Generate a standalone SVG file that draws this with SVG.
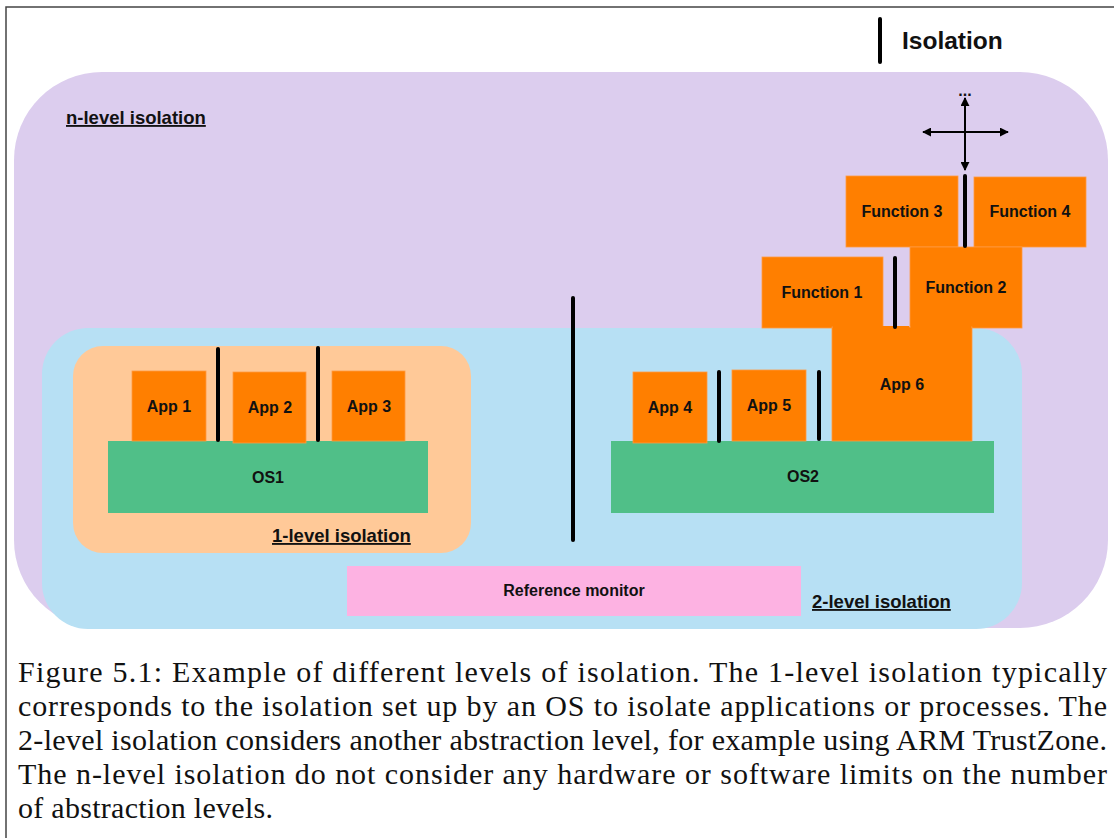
<svg xmlns="http://www.w3.org/2000/svg" width="1114" height="838" viewBox="0 0 1114 838">
<defs>
<marker id="ah" viewBox="0 0 10 10" refX="9" refY="5" markerWidth="9" markerHeight="9" markerUnits="userSpaceOnUse" orient="auto-start-reverse">
<path d="M0,0 L10,5 L0,10 z" fill="#000"/>
</marker>
<style>
.lbl{font-family:"Liberation Sans",Arial,sans-serif;font-weight:bold;font-size:16px;fill:#111;text-anchor:middle}
.zone{font-family:"Liberation Sans",Arial,sans-serif;font-weight:bold;font-size:18.5px;fill:#111;text-decoration:underline}
.orange{fill:#FF7F00;stroke:#FF9A40;stroke-width:0.8}
.green{fill:#50BF88}
.bar{stroke:#000;stroke-width:4;stroke-linecap:round}
.arr{stroke:#000;stroke-width:2;fill:none}
.cap{font-family:"Liberation Serif","Times New Roman",serif;font-size:30px;fill:#111}
</style>
</defs>
<rect x="0" y="0" width="1114" height="838" fill="#fff"/>
<path d="M6,838 V7 H1114" fill="none" stroke="#444" stroke-width="1.5"/>

<g id="n-level">
<rect x="14" y="72" width="1094" height="556" rx="88" ry="88" fill="#DCCDEE"/>
<text class="zone" x="66" y="124">n-level isolation</text>
</g>
<g id="two-level">
<rect x="42" y="328" width="980" height="301" rx="46" ry="46" fill="#B7E0F4"/>
<text class="zone" x="812" y="608">2-level isolation</text>
</g>
<g id="one-level">
<rect x="73" y="346" width="398" height="207" rx="30" ry="30" fill="#FFC998"/>
<text class="zone" x="272" y="542">1-level isolation</text>
</g>

<g id="os1"><rect class="green" x="108" y="441" width="320" height="72"/><text class="lbl" x="268" y="483">OS1</text></g>
<g id="os2"><rect class="green" x="611" y="441" width="383" height="72"/><text class="lbl" x="803" y="482">OS2</text></g>
<g id="app1"><rect class="orange" x="132" y="371" width="74" height="70"/><text class="lbl" x="169" y="412">App 1</text></g>
<g id="app2"><rect class="orange" x="233" y="372" width="73" height="71"/><text class="lbl" x="270" y="413">App 2</text></g>
<g id="app3"><rect class="orange" x="332" y="371" width="73" height="70"/><text class="lbl" x="369" y="412">App 3</text></g>
<g id="app4"><rect class="orange" x="633" y="372" width="74" height="71"/><text class="lbl" x="670" y="413">App 4</text></g>
<g id="app5"><rect class="orange" x="732" y="370" width="74" height="71"/><text class="lbl" x="769" y="411">App 5</text></g>
<g id="function1"><rect class="orange" x="762" y="257" width="121" height="71"/><text class="lbl" x="822" y="298">Function 1</text></g>
<g id="function3"><rect class="orange" x="846" y="176" width="112" height="71"/><text class="lbl" x="902" y="217">Function 3</text></g>
<g id="function4"><rect class="orange" x="974" y="177" width="112" height="70"/><text class="lbl" x="1030" y="217">Function 4</text></g>
<g id="function2"><rect class="orange" x="910" y="247" width="112" height="81"/><text class="lbl" x="966" y="293">Function 2</text></g>
<g id="app6"><rect class="orange" x="832" y="327" width="140" height="114"/><rect x="833" y="326" width="76" height="4" fill="#FF7F00"/><rect x="911" y="326" width="60" height="4" fill="#FF7F00"/><text class="lbl" x="902" y="390">App 6</text></g>
<g id="reference-monitor"><rect x="347" y="566" width="454" height="50" fill="#FDB2E2"/><text class="lbl" x="574" y="596">Reference monitor</text></g>

<g id="isolation-bars">
<line class="bar" x1="218" y1="349" x2="218" y2="440"/>
<line class="bar" x1="318" y1="348" x2="318" y2="440"/>
<line class="bar" x1="573" y1="298" x2="573" y2="540"/>
<line class="bar" x1="719" y1="372" x2="719" y2="441"/>
<line class="bar" x1="819" y1="372" x2="819" y2="439"/>
<line class="bar" x1="895" y1="258" x2="895" y2="327"/>
<line class="bar" x1="965" y1="176" x2="965" y2="246"/>
</g>

<g id="legend">
<line class="bar" x1="880" y1="19" x2="880" y2="62"/>
<text x="902" y="49" font-family="Liberation Sans, Arial, sans-serif" font-weight="bold" font-size="24.5" fill="#111">Isolation</text>
</g>

<g id="connectors">
<line class="arr" x1="965" y1="98" x2="965" y2="170" marker-start="url(#ah)" marker-end="url(#ah)"/>
<line class="arr" x1="923" y1="132" x2="1008" y2="132" marker-start="url(#ah)" marker-end="url(#ah)"/>
<text x="965" y="96" text-anchor="middle" font-family="Liberation Sans, Arial, sans-serif" font-weight="bold" font-size="16" fill="#111">...</text>
</g>

<g id="caption">
<text class="cap" x="18" y="682" textLength="1089" lengthAdjust="spacing">Figure 5.1: Example of different levels of isolation. The 1-level isolation typically</text>
<text class="cap" x="18" y="716" textLength="1089" lengthAdjust="spacing">corresponds to the isolation set up by an OS to isolate applications or processes. The</text>
<text class="cap" x="18" y="750" textLength="1089" lengthAdjust="spacing">2-level isolation considers another abstraction level, for example using ARM TrustZone.</text>
<text class="cap" x="18" y="784" textLength="1089" lengthAdjust="spacing">The n-level isolation do not consider any hardware or software limits on the number</text>
<text class="cap" x="18" y="818" textLength="255" lengthAdjust="spacing">of abstraction levels.</text>
</g>
</svg>
